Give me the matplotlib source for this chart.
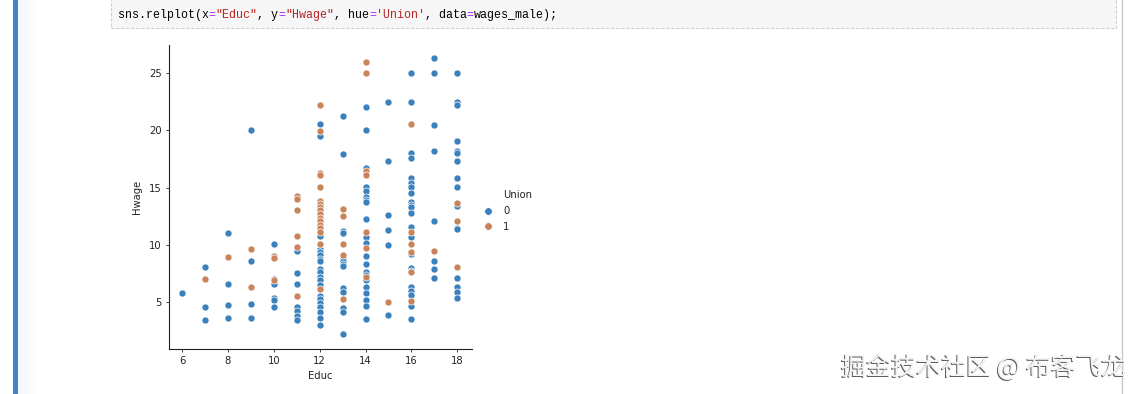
import matplotlib
matplotlib.use("Agg")
import matplotlib.pyplot as plt
from matplotlib.patches import Rectangle
from matplotlib.lines import Line2D

# ---------------- data ----------------
educ_u0 = ([6] + [7]*3 + [8]*4 + [9]*4 + [10]*6 + [11]*7 + [12]*20 + [13]*13
           + [14]*21 + [15]*6 + [16]*22 + [17]*8 + [18]*16)
hwage_u0 = [5.8,
            8.05, 4.59, 3.43,
            11.05, 6.57, 4.77, 3.6,
            20.0, 8.55, 4.85, 3.6,
            10.06, 7.03, 6.57, 5.35, 5.15, 4.53,
            9.5, 7.56, 6.57, 4.59, 4.24, 3.78, 3.46,
            20.6, 19.49, 10.74, 9.61, 9.37, 9.11, 8.79, 8.62, 7.86, 7.59, 7.16,
            6.92, 6.46, 5.55, 5.26, 4.88, 4.59, 4.15, 3.63, 2.99,
            21.27, 17.92, 11.24, 11.06, 8.91, 8.56, 8.32, 8.12, 6.20, 5.90, 4.50, 4.15, 2.17,
            22.03, 20.01, 16.69, 15.09, 14.74, 14.15, 13.92, 13.78, 12.26, 10.66, 10.13,
            9.0, 8.29, 7.59, 7.36, 6.92, 6.34, 5.76, 5.15, 4.65, 3.48,
            22.52, 17.30, 12.58, 11.33, 9.96, 3.86,
            25.0, 22.52, 18.06, 17.57, 15.82, 15.44, 15.09, 14.56, 13.78, 13.51, 13.28,
            12.76, 11.59, 10.66, 9.17, 7.97, 7.68, 6.34, 5.99, 5.58, 4.62, 3.48,
            26.31, 25.0, 20.45, 18.21, 12.08, 8.59, 7.89, 7.10,
            25.0, 22.52, 22.23, 19.05, 18.21, 18.0, 17.33, 15.85, 15.06, 13.43, 11.50,
            11.36, 7.10, 6.34, 5.85, 5.35]

educ_u1 = ([7] + [8] + [9]*2 + [10]*3 + [11]*6 + [12]*17 + [13]*5 + [14]*7
           + [15] + [16]*6 + [17] + [18]*3)
hwage_u1 = [7.03,
            8.98,
            9.62, 6.34,
            9.04, 8.84, 6.9,
            14.24, 14.03, 13.04, 10.78, 9.8, 5.55,
            22.19, 19.99, 16.31, 16.08, 15.06, 13.80, 13.57, 13.34, 13.05, 12.70,
            12.38, 12.06, 11.75, 11.44, 11.15, 10.10, 6.11,
            13.13, 12.55, 10.10, 9.08, 5.23,
            25.99, 25.0, 16.46, 16.08, 11.09, 9.72, 7.16,
            4.97,
            20.54, 11.09, 10.10, 9.37, 7.59, 5.12,
            9.43,
            13.63, 12.08, 8.09]

union_levels = ["0", "1"]
x_ticks = [6, 8, 10, 12, 14, 16, 18]
y_ticks = [5, 10, 15, 20, 25]

# ---------------- figure ----------------
W, H = 1139, 394
fig = plt.figure(figsize=(W / 100, H / 100), dpi=100)
fig.patch.set_facecolor("white")

bg = fig.add_axes([0, 0, 1, 1])
bg.set_xlim(0, W)
bg.set_ylim(H, 0)
bg.axis("off")

# notebook left selection bar
bg.add_patch(Rectangle((13, 0), 5, H, color="#3f86c4", lw=0))
for i in range(12):
    bg.add_patch(Rectangle((18 + i * 1.5, 0), 1.5, H, color="#e8f1fa",
                           alpha=0.5 * (1 - i / 12), lw=0))
# right border line
bg.add_line(Line2D([1122, 1122], [0, H], color="#c8c8c8", lw=1))

# code cell box
bg.add_patch(Rectangle((111, -5), 1005, 33, facecolor="#f7f7f7",
                       edgecolor="#cfcfcf", lw=0.8, ls=(0, (3, 1.5))))

code_parts = [("sns.relplot(x", "#000000"), ("=", "#aa22ff"), ('"Educ"', "#ba2121"),
              (", y", "#000000"), ("=", "#aa22ff"), ('"Hwage"', "#ba2121"),
              (", hue", "#000000"), ("=", "#aa22ff"), ("'Union'", "#ba2121"),
              (", data", "#000000"), ("=", "#aa22ff"), ("wages_male);", "#000000")]
cx = 118
cw = 6.97
for txt, col in code_parts:
    bg.text(cx, 15, txt, fontsize=8.4, family="Liberation Mono", color=col,
            va="center", ha="left")
    cx += cw * len(txt)

# watermark
wm = "掘金技术社区 @ 布客飞龙"
bg.text(1124.6, 369.0, wm, fontsize=18, family=["Noto Sans CJK SC", "DejaVu Sans"],
        color="#5e5e5e", ha="right", va="center")
bg.text(1125.6, 368.0, wm, fontsize=18, family=["Noto Sans CJK SC", "DejaVu Sans"],
        color="#f4f4f4", ha="right", va="center")

# ---------------- the chart ----------------
ax = fig.add_axes([168.7 / W, (H - 349) / H, 303 / W, 304 / H])
blue = "#3a80bd"
orange = "#c9845a"
ax.scatter(educ_u0, hwage_u0, s=26, color=blue, edgecolors="white", linewidths=0.5, zorder=3)
ax.scatter(educ_u1, hwage_u1, s=26, color=orange, edgecolors="white", linewidths=0.5, zorder=3)

ax.set_xlim(5.42, 18.63)
ax.set_ylim(0.9, 27.47)
ax.set_xticks(x_ticks)
ax.set_yticks(y_ticks)
ax.tick_params(labelsize=7.2, length=2.5, width=0.6, pad=2.5, colors="#222222")
for s in ["top", "right"]:
    ax.spines[s].set_visible(False)
for s in ["left", "bottom"]:
    ax.spines[s].set_linewidth(0.8)
    ax.spines[s].set_color("#222222")
ax.set_xlabel("Educ", fontsize=7.2, labelpad=3.5, color="#222222")
ax.set_ylabel("Hwage", fontsize=7.2, labelpad=5, color="#222222")

# legend (seaborn-style: title as an entry with an invisible handle)
handles = [Line2D([], [], ls="", marker=""),
           Line2D([], [], marker="o", ls="", color=blue, markeredgecolor="white",
                  markeredgewidth=0.5, markersize=5.5),
           Line2D([], [], marker="o", ls="", color=orange, markeredgecolor="white",
                  markeredgewidth=0.5, markersize=5.5)]
leg = fig.legend(handles, ["Union"] + union_levels, loc="center left",
                 bbox_to_anchor=(475 / W, 1 - 211 / H), frameon=False,
                 fontsize=7.2, handletextpad=0.9,
                 labelspacing=0.55, borderpad=0.2, handlelength=1.2)
for t in leg.get_texts():
    t.set_color("#222222")

fig.savefig("out.png", dpi=100, facecolor="white")
